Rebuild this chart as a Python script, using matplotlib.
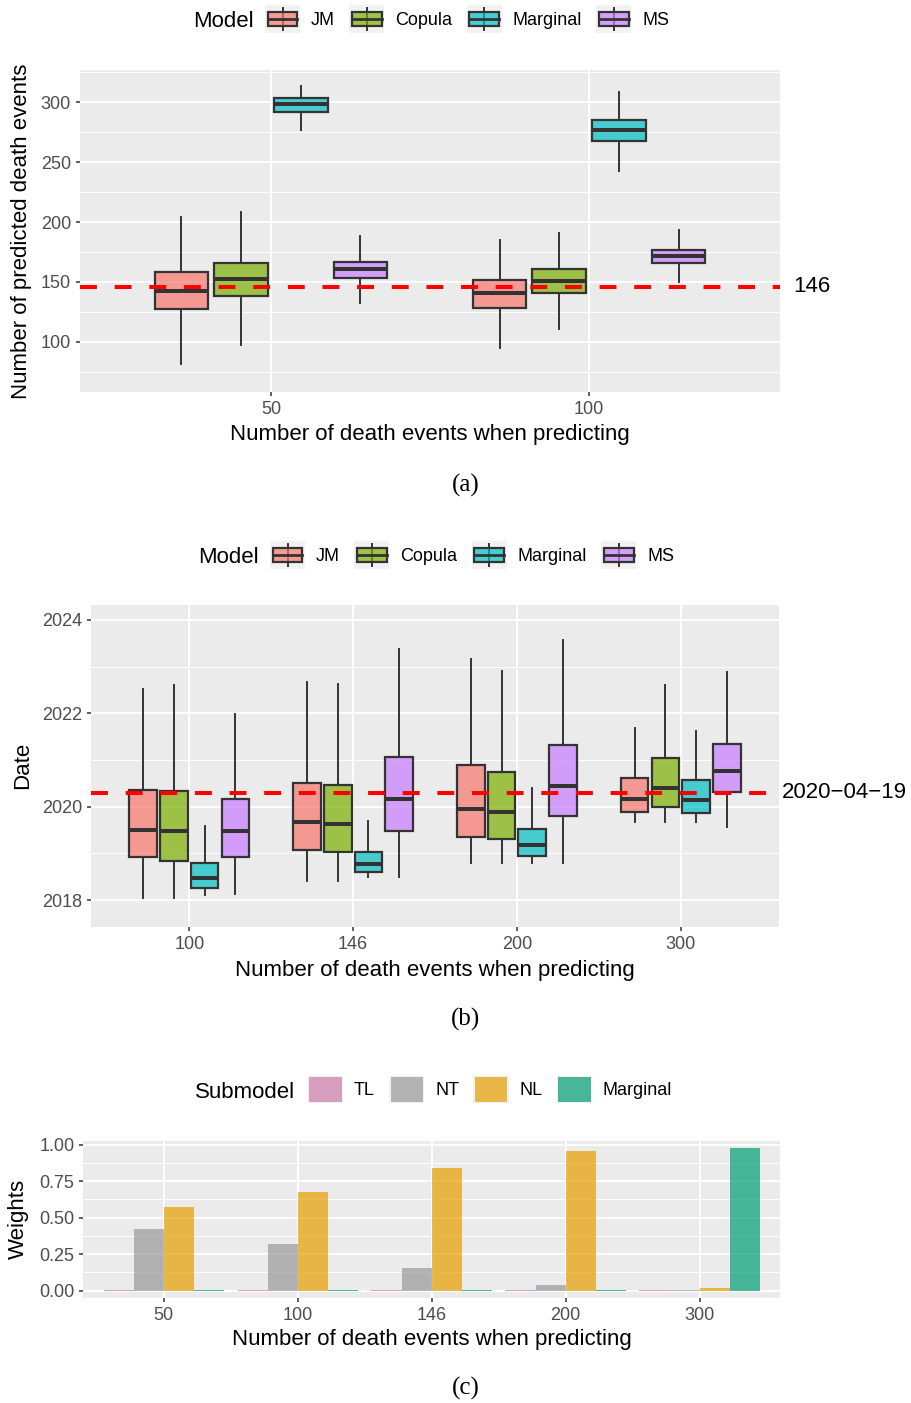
import matplotlib
matplotlib.use('Agg')
import matplotlib.pyplot as plt
import numpy as np
from matplotlib.patches import Rectangle, Patch
from matplotlib.lines import Line2D
from matplotlib.legend_handler import HandlerBase
from matplotlib.ticker import MultipleLocator, AutoMinorLocator
from matplotlib.colors import to_rgba

plt.rcParams['font.family'] = ['Liberation Sans', 'DejaVu Sans']

# ---- data ----
models = ['JM', 'Copula', 'Marginal', 'MS']
model_colors = ['#F8766D', '#7CAE00', '#00BFC4', '#C77CFF']

# panel (a): box summaries [whisker low, q1, median, q3, whisker high]
events_a = [50, 100]
count_jm = [[81, 127, 142, 158, 204], [95, 128, 141, 151.5, 185]]
count_copula = [[97, 138, 152, 166, 208], [111, 141, 151, 161, 191]]
count_marginal = [[277, 292, 299, 304, 314], [243, 268, 277, 285, 309]]
count_ms = [[132, 153, 160.5, 167, 188], [150, 166, 172, 177, 193]]
true_deaths = 146

# panel (b): predicted dates (decimal years)
events_b = ['100', '146', '200', '300']
date_jm = [[2018.04, 2018.92, 2019.50, 2020.36, 2022.52],
           [2018.41, 2019.08, 2019.68, 2020.51, 2022.68],
           [2018.79, 2019.36, 2019.96, 2020.89, 2023.16],
           [2019.68, 2019.89, 2020.16, 2020.61, 2021.69]]
date_copula = [[2018.04, 2018.84, 2019.48, 2020.34, 2022.60],
               [2018.41, 2019.02, 2019.62, 2020.46, 2022.62],
               [2018.79, 2019.30, 2019.89, 2020.74, 2022.91],
               [2019.68, 2019.99, 2020.41, 2021.04, 2022.60]]
date_marginal = [[2018.11, 2018.26, 2018.47, 2018.79, 2019.59],
                 [2018.49, 2018.61, 2018.78, 2019.04, 2019.69],
                 [2018.79, 2018.94, 2019.19, 2019.53, 2020.39],
                 [2019.68, 2019.86, 2020.14, 2020.57, 2021.63]]
date_ms = [[2018.14, 2018.92, 2019.47, 2020.16, 2021.99],
           [2018.49, 2019.49, 2020.17, 2021.06, 2023.37],
           [2018.79, 2019.81, 2020.44, 2021.32, 2023.57],
           [2019.57, 2020.31, 2020.76, 2021.34, 2022.89]]
true_date = 2020.298  # 2020-04-19

# panel (c): submodel weights
events_c = ['50', '100', '146', '200', '300']
submodels = ['TL', 'NT', 'NL', 'Marginal']
sub_colors = ['#CC79A7', '#999999', '#E69F00', '#009E73']
w_tl = [0.004, 0.004, 0.004, 0.004, 0.004]
w_nt = [0.423, 0.320, 0.156, 0.039, 0.003]
w_nl = [0.574, 0.677, 0.842, 0.959, 0.018]
w_marg = [0.004, 0.004, 0.004, 0.004, 0.979]

W, H = 912, 1403
DARK = '#333333'


class BoxKey(HandlerBase):
    def create_artists(self, legend, orig_handle, xdescent, ydescent,
                       width, height, fontsize, trans):
        x0, y0 = -xdescent, -ydescent
        bg = Rectangle((x0, y0), width, height, facecolor='#F2F2F2',
                       edgecolor='none', transform=trans)
        wl = Line2D([x0 + width / 2] * 2, [y0 + 0.08 * height, y0 + 0.92 * height],
                    color=DARK, lw=1.4, transform=trans)
        box = Rectangle((x0 + 0.08 * width, y0 + 0.24 * height), 0.84 * width,
                        0.52 * height, facecolor=orig_handle.get_facecolor(),
                        edgecolor=DARK, lw=1.6, transform=trans)
        med = Line2D([x0 + 0.08 * width, x0 + 0.92 * width], [y0 + height / 2] * 2,
                     color=DARK, lw=2.0, transform=trans)
        return [bg, wl, box, med]


class BarKey(HandlerBase):
    def create_artists(self, legend, orig_handle, xdescent, ydescent,
                       width, height, fontsize, trans):
        x0, y0 = -xdescent, -ydescent
        bg = Rectangle((x0, y0), width, height, facecolor='#F2F2F2',
                       edgecolor='none', transform=trans)
        d = 0.04 * width
        fill = Rectangle((x0 + d, y0 + d), width - 2 * d, height - 2 * d,
                         facecolor=orig_handle.get_facecolor(), edgecolor='none',
                         transform=trans)
        return [bg, fill]


def style_axes(ax):
    ax.set_facecolor('#EBEBEB')
    for s in ax.spines.values():
        s.set_visible(False)
    ax.set_axisbelow(True)
    ax.grid(which='major', color='white', lw=1.3)
    ax.grid(which='minor', axis='y', color='white', lw=0.7)
    ax.tick_params(which='major', color=DARK, labelcolor='#4D4D4D', labelsize=13,
                   length=3, width=1.1, pad=3.5)
    ax.tick_params(which='minor', length=0)


def draw_boxes(ax, centers, slot, groups):
    for k, (summ, col) in enumerate(zip(groups, model_colors)):
        stats = [dict(whislo=s[0], q1=s[1], med=s[2], q3=s[3], whishi=s[4], fliers=[])
                 for s in summ]
        pos = [c + (k - 1.5) * slot for c in centers]
        ax.bxp(stats, positions=pos, widths=0.9 * slot, patch_artist=True,
               showcaps=False, showfliers=False, manage_ticks=False,
               boxprops=dict(facecolor=to_rgba(col, 0.7), edgecolor=DARK, lw=1.6),
               whiskerprops=dict(color=DARK, lw=1.4),
               medianprops=dict(color=DARK, lw=2.9, solid_capstyle='butt'))


def set_labels(ax, xlabel, ylabel, xl_y, yl_x):
    ax.set_xlabel(xlabel, fontsize=16, color='black')
    ax.set_ylabel(ylabel, fontsize=16, color='black')
    ax.xaxis.set_label_coords(0.5, xl_y)
    ax.yaxis.set_label_coords(yl_x, 0.5)
    ax.xaxis.label.set_va('center')
    ax.yaxis.label.set_va('center')


def add_legend(fig, title, labels, colors, title_px, key_px, y_px, handler, alpha):
    fig.text(title_px / W, 1 - y_px / H, title, fontsize=16, ha='left',
             va='center_baseline')
    handles = [Patch(facecolor=to_rgba(c, alpha)) for c in colors]
    fig.legend(handles, labels, loc='center left',
               bbox_to_anchor=(key_px / W, 1 - y_px / H), ncol=len(labels),
               frameon=False, fontsize=13, handlelength=1.94, handleheight=1.94,
               handletextpad=0.6, columnspacing=0.8, borderpad=0, borderaxespad=0,
               handler_map={Patch: handler})


fig = plt.figure(figsize=(W / 100, H / 100), dpi=100)

# ---- panel (a) ----
ax1 = fig.add_axes([80 / W, 1 - 392 / H, 700 / W, 322 / H])
style_axes(ax1)
draw_boxes(ax1, events_a, 0.75 * 50 / 4, [count_jm, count_copula, count_marginal, count_ms])
ax1.axhline(true_deaths, color='red', lw=2.9, dashes=(4.2, 4.4), zorder=5)
ax1.set_xlim(20, 130)
ax1.set_ylim(58, 327)
ax1.set_xticks(events_a)
ax1.yaxis.set_major_locator(MultipleLocator(50))
ax1.yaxis.set_minor_locator(AutoMinorLocator(2))
ax1.text(1.0186, true_deaths, str(true_deaths), fontsize=16, ha='left', va='center',
         transform=ax1.get_yaxis_transform(), clip_on=False)
set_labels(ax1, 'Number of death events when predicting',
           'Number of predicted death events', -0.132, -0.083)
add_legend(fig, 'Model', models, model_colors, 193, 265, 19, BoxKey(), 0.7)
fig.text(466 / W, 1 - 485 / H, '(a)', family='Liberation Serif', fontsize=18,
         ha='center', va='center')

# ---- panel (b) ----
ax2 = fig.add_axes([91 / W, 1 - 926.7 / H, 688 / W, 321.7 / H])
style_axes(ax2)
xb = np.arange(1, len(events_b) + 1)
draw_boxes(ax2, xb, 0.75 / 4, [date_jm, date_copula, date_marginal, date_ms])
ax2.axhline(true_date, color='red', lw=2.9, dashes=(4.2, 4.4), zorder=5)
ax2.set_xlim(0.4, len(events_b) + 0.6)
ax2.set_ylim(2017.43, 2024.32)
ax2.set_xticks(xb)
ax2.set_xticklabels(events_b)
ax2.yaxis.set_major_locator(MultipleLocator(2))
ax2.yaxis.set_minor_locator(AutoMinorLocator(2))
ax2.text(1.004, true_date, '2020\u221204\u221219', fontsize=16, ha='left', va='center',
         transform=ax2.get_yaxis_transform(), clip_on=False)
set_labels(ax2, 'Number of death events when predicting', 'Date', -0.137, -0.1)
add_legend(fig, 'Model', models, model_colors, 198, 270, 555, BoxKey(), 0.7)
fig.text(466 / W, 1 - 1019 / H, '(b)', family='Liberation Serif', fontsize=18,
         ha='center', va='center')

# ---- panel (c) ----
ax3 = fig.add_axes([83.5 / W, 1 - 1297.5 / H, 696.5 / W, 156.5 / H])
style_axes(ax3)
xc = np.arange(1, len(events_c) + 1)
bw = 0.9 / 4
for k, (vals, col) in enumerate(zip([w_tl, w_nt, w_nl, w_marg], sub_colors)):
    ax3.bar(xc + (k - 1.5) * bw, vals, width=bw, color=col, alpha=0.7, lw=0)
ax3.set_xlim(0.4, len(events_c) + 0.6)
ax3.set_ylim(-0.0467, 1.0254)
ax3.set_xticks(xc)
ax3.set_xticklabels(events_c)
ax3.yaxis.set_major_locator(MultipleLocator(0.25))
ax3.yaxis.set_minor_locator(AutoMinorLocator(2))
ax3.yaxis.set_major_formatter(lambda v, p: f'{v:.2f}')
set_labels(ax3, 'Number of death events when predicting', 'Weights', -0.27, -0.093)
add_legend(fig, 'Submodel', submodels, sub_colors, 195, 308, 1089.5, BarKey(), 0.7)
fig.text(466 / W, 1 - 1388 / H, '(c)', family='Liberation Serif', fontsize=18,
         ha='center', va='center')

fig.savefig('out.png', dpi=100)
